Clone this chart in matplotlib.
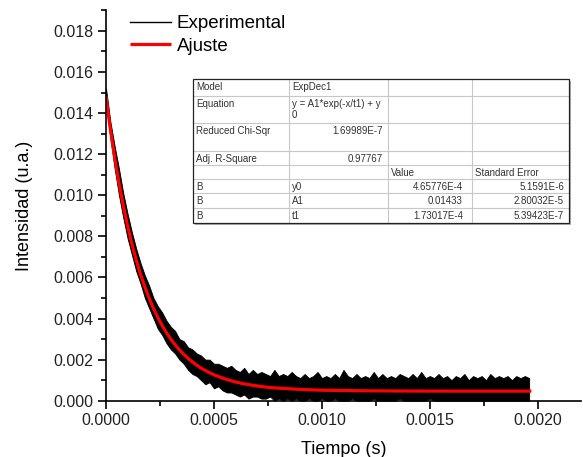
import numpy as np
import matplotlib
matplotlib.use('Agg')
import matplotlib.pyplot as plt
from matplotlib.ticker import MultipleLocator, FormatStrFormatter

plt.rcParams['font.family'] = ['Liberation Sans', 'DejaVu Sans']

# ---- experimental trace: band, 20 us steps ----
t_env = np.arange(99) * 2e-5
upper = [0.0152, 0.0136, 0.0124, 0.0113, 0.0101, 0.0091, 0.0082, 0.0074, 0.0067, 0.0061,
         0.0056, 0.0050, 0.0046, 0.0043, 0.0039, 0.0036, 0.0034, 0.0030, 0.0029, 0.0026,
         0.0025, 0.0023, 0.0022, 0.0020, 0.0020, 0.0018, 0.0018, 0.0017, 0.0016, 0.0017,
         0.0015, 0.0014, 0.0016, 0.0013, 0.0015, 0.0013, 0.0014, 0.0013, 0.0012, 0.0015,
         0.0012, 0.0013, 0.0012, 0.0014, 0.0012, 0.0011, 0.0013, 0.0011, 0.0012, 0.0014,
         0.0011, 0.0012, 0.0011, 0.0013, 0.0011, 0.0015, 0.0012, 0.0011, 0.0013, 0.0011,
         0.0012, 0.0011, 0.0014, 0.0011, 0.0013, 0.0011, 0.0012, 0.0011, 0.0013, 0.0012,
         0.0011, 0.0013, 0.0011, 0.0014, 0.0011, 0.0012, 0.0011, 0.0013, 0.0011, 0.0012,
         0.0010, 0.0012, 0.0011, 0.0013, 0.0010, 0.0012, 0.0011, 0.0012, 0.0010, 0.0013,
         0.0011, 0.0012, 0.0011, 0.0012, 0.0010, 0.0012, 0.0011, 0.0012, 0.0011]
lower = [0.0146, 0.0128, 0.0113, 0.0100, 0.0089, 0.0079, 0.0071, 0.0063, 0.0057, 0.0050,
         0.0045, 0.0040, 0.0035, 0.0032, 0.0028, 0.0025, 0.0023, 0.0020, 0.0018, 0.0015,
         0.0013, 0.0012, 0.0010, 0.0008, 0.0009, 0.0006, 0.0007, 0.0005, 0.0004, 0.0004,
         0.0003, 0.0002, 0.0003, 0.0001, 0.0002, 0.0002, 0.0001, 0.0001, 0.0002, 0.0000,
         0.0001, 0.0000, 0.0001, 0.0000, 0.0001, 0.0000, 0.0000, 0.0001, 0.0000, 0.0000,
         0.0001, 0.0000, 0.0000, 0.0001, 0.0000, 0.0000, 0.0000, 0.0001, 0.0000, 0.0000,
         0.0000, 0.0000, 0.0001, 0.0000, 0.0000, 0.0000, 0.0000, 0.0000, 0.0001, 0.0000,
         0.0000, 0.0000, 0.0000, 0.0000, 0.0000, 0.0001, 0.0000, 0.0000, 0.0000, 0.0000,
         0.0000, 0.0000, 0.0000, 0.0000, 0.0000, 0.0000, 0.0000, 0.0000, 0.0000, 0.0000,
         0.0000, 0.0000, 0.0000, 0.0000, 0.0000, 0.0000, 0.0000, 0.0000, 0.0000]

# ---- fitted curve (ExpDec1) ----
t_fit = [0.0, 0.00002, 0.00004, 0.00006, 0.00008, 0.0001, 0.00012, 0.00014, 0.00016, 0.00018,
         0.0002, 0.00022, 0.00024, 0.00026, 0.00028, 0.0003, 0.00032, 0.00034, 0.00036, 0.00038,
         0.0004, 0.00042, 0.00044, 0.00046, 0.00048, 0.0005, 0.00052, 0.00054, 0.00056, 0.00058,
         0.0006, 0.00064, 0.00068, 0.00072, 0.00076, 0.0008, 0.0009, 0.001, 0.0012, 0.0014,
         0.0016, 0.0018, 0.00197]
y_fit = [0.01480, 0.01323, 0.01184, 0.01060, 0.00950, 0.00851, 0.00763, 0.00685, 0.00615, 0.00553,
         0.00498, 0.00449, 0.00405, 0.00366, 0.00331, 0.00300, 0.00272, 0.00248, 0.00226, 0.00206,
         0.00189, 0.00173, 0.00159, 0.00147, 0.00136, 0.00126, 0.00118, 0.00110, 0.00103, 0.00097,
         0.00091, 0.00082, 0.00075, 0.00069, 0.00064, 0.00061, 0.00055, 0.00051, 0.00048, 0.00047,
         0.000466, 0.000466, 0.000466]

# ---- fit report table ----
table_rows = [
    ['Model', 'ExpDec1', '', ''],
    ['Equation', 'y = A1*exp(-x/t1) + y\n0', '', ''],
    ['Reduced Chi-Sqr', '1.69989E-7', '', ''],
    ['Adj. R-Square', '0.97767', '', ''],
    ['', '', 'Value', 'Standard Error'],
    ['B', 'y0', '4.65776E-4', '5.1591E-6'],
    ['B', 'A1', '0.01433', '2.80032E-5'],
    ['B', 't1', '1.73017E-4', '5.39423E-7'],
]

W, H = 583, 457
fig = plt.figure(figsize=(W / 100, H / 100), dpi=100)
ax = fig.add_axes([106 / W, 1 - 400.7 / H, 475 / W, 390.3 / H])

ax.fill_between(t_env, lower, upper, color='black', lw=0.6, edgecolor='black')
ax.plot([], [], color='black', lw=1.0, label='Experimental')
ax.plot(t_fit, y_fit, color='#ff0000', lw=2.3, label='Ajuste', solid_capstyle='butt')

ax.set_xlim(0, 0.0022)
ax.set_ylim(0, 0.019)
ax.xaxis.set_major_locator(MultipleLocator(0.0005))
ax.xaxis.set_minor_locator(MultipleLocator(0.00025))
ax.yaxis.set_major_locator(MultipleLocator(0.002))
ax.yaxis.set_minor_locator(MultipleLocator(0.001))
ax.xaxis.set_major_formatter(FormatStrFormatter('%.4f'))
ax.yaxis.set_major_formatter(FormatStrFormatter('%.3f'))
for side in ['top', 'right']:
    ax.spines[side].set_visible(False)
for side in ['left', 'bottom']:
    ax.spines[side].set_linewidth(1.2)
ax.tick_params(which='major', direction='out', length=6, width=1.2, labelsize=11.5,
               labelcolor='#222222', pad=3)
ax.tick_params(which='minor', direction='out', length=3.5, width=1.2)
ax.set_xlabel('Tiempo (s)', fontsize=13, labelpad=9)
ax.set_ylabel('Intensidad (u.a.)', fontsize=13, labelpad=15)

ax.legend(loc='upper left', bbox_to_anchor=(130 / W, 1 - 15 / H), bbox_transform=fig.transFigure,
          frameon=False, fontsize=13.5, handlelength=2.2, handletextpad=0.3,
          labelspacing=0.3, borderpad=0, borderaxespad=0)

# ---- table drawn in figure pixel coordinates ----
ov = fig.add_axes([0, 0, 1, 1])
ov.set_xlim(0, W)
ov.set_ylim(H, 0)
ov.axis('off')

cols = [193, 289, 388, 472, 569]
rows = [79, 96, 123, 151, 165, 179, 193, 208, 223]
ov.add_patch(plt.Rectangle((cols[0] + 2, rows[0] + 2), cols[-1] - cols[0], rows[-1] - rows[0],
                           facecolor='#b0b0b0', edgecolor='none', zorder=1))
ov.add_patch(plt.Rectangle((cols[0], rows[0]), cols[-1] - cols[0], rows[-1] - rows[0],
                           facecolor='white', edgecolor='none', zorder=2))
for c in cols[1:-1]:
    ov.plot([c, c], [rows[0], rows[-1]], color='#c8c8c8', lw=0.8, zorder=3)
for r in rows[1:-1]:
    ov.plot([cols[0], cols[-1]], [r, r], color='#c8c8c8', lw=0.8, zorder=3)
ov.add_patch(plt.Rectangle((cols[0], rows[0]), cols[-1] - cols[0], rows[-1] - rows[0],
                           facecolor='none', edgecolor='#222222', lw=0.9, zorder=4))

tfs = 7
tcol = '#333333'
for i, row in enumerate(table_rows):
    top = rows[i]
    for j, txt in enumerate(row):
        if not txt:
            continue
        right_aligned = (i in (2, 3) and j == 1) or (i >= 5 and j >= 2)
        if right_aligned:
            x = cols[j + 1] - (9 if j == 2 else 5)
            ha = 'right'
        else:
            x = cols[j] + 3
            ha = 'left'
        ov.text(x, top + 3, txt, ha=ha, va='top', fontsize=tfs, color=tcol,
                linespacing=1.1, zorder=5)

fig.savefig('out.png', dpi=100)
